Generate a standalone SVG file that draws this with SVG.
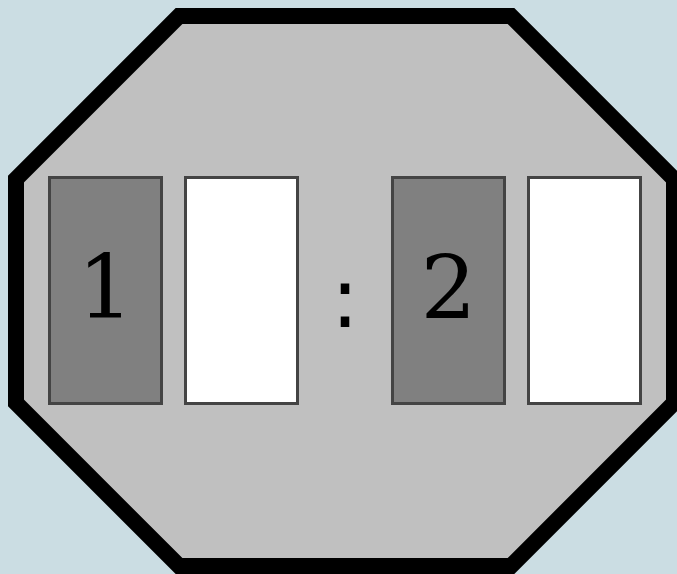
<svg xmlns="http://www.w3.org/2000/svg" width="677" height="574" viewBox="0 0 677 574">
<style>
.box{stroke:#444;stroke-width:3}
.g{fill:#808080}
.w{fill:#fff}
.t{font-family:"DejaVu Serif",serif;font-size:88px;text-anchor:middle;fill:#000}
.c{font-family:"DejaVu Sans",sans-serif;font-size:83px;text-anchor:middle;fill:#000}
</style>
<rect x="0" y="0" width="677" height="574" fill="#cbdde3"/>
<g id="octagon">
<polygon points="179,16 511,16 674,179 674,403 511,566 179,566 16,403 16,179" fill="#c0c0c0" stroke="#000" stroke-width="16"/>
</g>
<g id="n1"><rect class="box g" x="49.5" y="177.5" width="112" height="226"/><text class="t" x="105.5" y="318">1</text></g>
<g id="n2"><rect class="box w" x="185.5" y="177.5" width="112" height="226"/></g>
<g id="sep"><text class="c" x="345" y="327">:</text></g>
<g id="n3"><rect class="box g" x="392.5" y="177.5" width="112" height="226"/><text class="t" x="448.5" y="319">2</text></g>
<g id="n4"><rect class="box w" x="528.5" y="177.5" width="112" height="226"/></g>
<g id="connectors"></g>
</svg>
